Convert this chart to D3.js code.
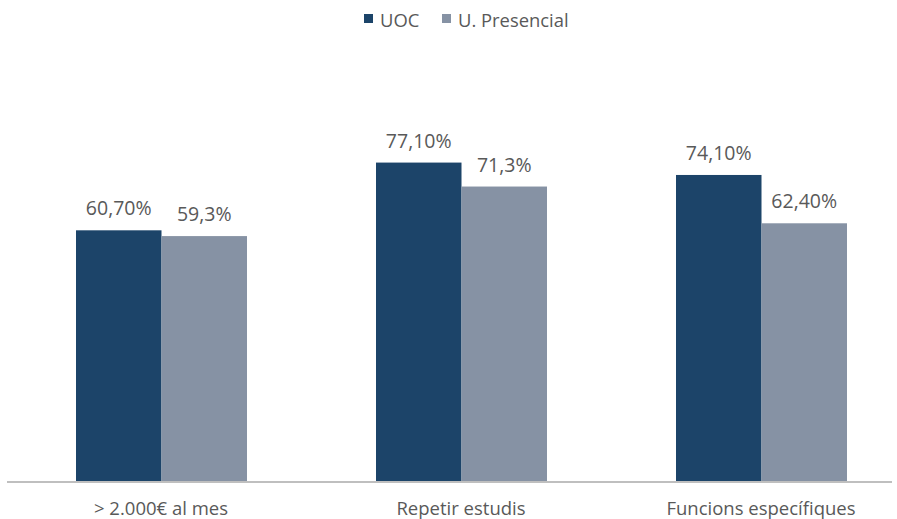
<!DOCTYPE html>
<html>
<head>
<meta charset="utf-8">
<script src="https://cdn.jsdelivr.net/npm/d3@7"></script>
<style>
  body { margin: 0; background: #fff; }
  text { font-family: "Open Sans", sans-serif; fill: #595959; }
</style>
</head>
<body>
<div id="chart"></div>
<script>
var categories = ["> 2.000€ al mes", "Repetir estudis", "Funcions específiques"];
var seriesNames = ["UOC", "U. Presencial"];
var uocValues = [60.7, 77.1, 74.1];
var presencialValues = [59.3, 71.3, 62.4];
var uocLabels = ["60,70%", "77,10%", "74,10%"];
var presencialLabels = ["59,3%", "71,3%", "62,40%"];
var colors = ["#1c4469", "#8692a4"];

var width = 897, height = 519;

var svg = d3.select("#chart").append("svg")
    .attr("width", width)
    .attr("height", height);

var x = d3.scaleBand()
    .domain(categories)
    .range([11, 911]);

// bars sit inside each category band
var x1 = d3.scaleBand()
    .domain(seriesNames)
    .range([65, 236]);

var y = d3.scaleLinear()
    .domain([0, 100])
    .range([481, 68]);

var rows = categories.map(function(c, i) {
    return { cat: c, values: [
        { name: seriesNames[0], v: uocValues[i], label: uocLabels[i] },
        { name: seriesNames[1], v: presencialValues[i], label: presencialLabels[i] }
    ]};
});

var groups = svg.selectAll("g.grp")
    .data(rows)
    .enter().append("g")
    .attr("class", "grp")
    .attr("transform", function(d) { return "translate(" + x(d.cat) + ",0)"; });

groups.selectAll("rect")
    .data(function(d) { return d.values; })
    .enter().append("rect")
    .attr("x", function(d) { return x1(d.name); })
    .attr("y", function(d) { return y(d.v); })
    .attr("width", x1.bandwidth())
    .attr("height", function(d) { return y(0) - y(d.v); })
    .attr("fill", function(d, i) { return colors[i]; });

groups.selectAll("text.val")
    .data(function(d) { return d.values; })
    .enter().append("text")
    .attr("class", "val")
    .attr("x", function(d) { return x1(d.name) + x1.bandwidth() / 2; })
    .attr("y", function(d) { return y(d.v) - 15; })
    .attr("text-anchor", "middle")
    .style("font-size", "19.5px")
    .text(function(d) { return d.label; });

// baseline
svg.append("line")
    .attr("x1", 7)
    .attr("x2", 892)
    .attr("y1", y(0) + 1)
    .attr("y2", y(0) + 1)
    .attr("stroke", "#bfbfbf")
    .attr("stroke-width", 2);

// category labels
svg.selectAll("text.cat")
    .data(categories)
    .enter().append("text")
    .attr("class", "cat")
    .attr("x", function(d) { return x(d) + x.bandwidth() / 2; })
    .attr("y", 515)
    .attr("text-anchor", "middle")
    .style("font-size", "18.5px")
    .text(function(d) { return d; });

// legend
var legend = svg.append("g").attr("transform", "translate(364,0)");
var legendX = [0, 78];
seriesNames.forEach(function(name, i) {
    legend.append("rect")
        .attr("x", legendX[i])
        .attr("y", 14)
        .attr("width", 9)
        .attr("height", 9)
        .attr("fill", colors[i]);
    legend.append("text")
        .attr("x", legendX[i] + 16)
        .attr("y", 27)
        .style("font-size", "18.4px")
        .text(name);
});
</script>
</body>
</html>
